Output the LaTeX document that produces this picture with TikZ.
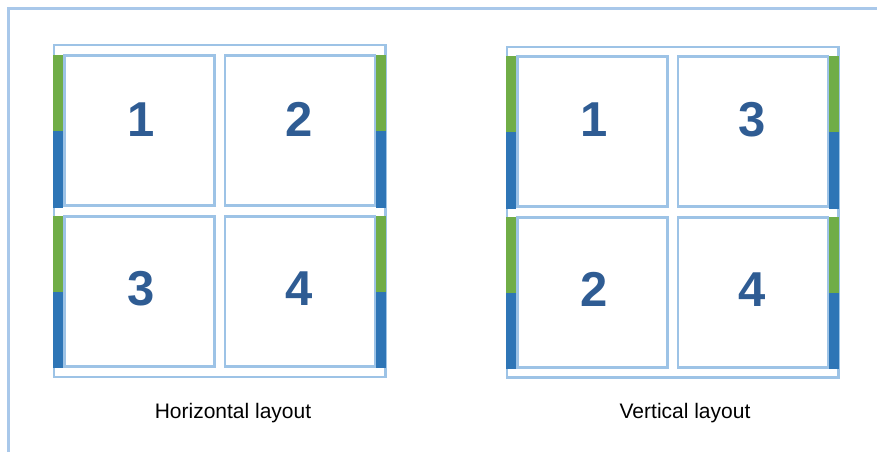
\documentclass[tikz,border=0pt]{standalone}
\usepackage{fontspec}
\setmainfont{Liberation Sans}
\definecolor{lineblue}{HTML}{9DC3E6}
\definecolor{framelight}{HTML}{A9C8EA}
\definecolor{bargreen}{HTML}{70AD47}
\definecolor{barblue}{HTML}{2E75B6}
\definecolor{numblue}{HTML}{2F5C93}
\begin{document}
\begin{tikzpicture}[x=1pt,y=-1pt,
  cell/.style={draw=lineblue,line width=2.5pt,minimum width=150pt,minimum height=150pt,inner sep=0pt},
  digit/.style={anchor=base,inner sep=0pt,font=\fontsize{49}{49}\selectfont\bfseries,text=numblue},
  group/.style={draw=lineblue,line width=2.5pt},
  capt/.style={anchor=base,inner sep=0pt,font=\fontsize{21}{24}\selectfont,text=black}]
\useasboundingbox (0,0) rectangle (877,452);
% outer frame
\draw[framelight,line width=2.5pt] (8.5,452) -- (8.5,8.5) -- (877,8.5);
% left group
\draw[group] (54,45) rectangle (385.5,377);
\node[cell] (h1) at (139.5,130.5) {};
\node[cell] (h2) at (300,130.5) {};
\node[cell] (h3) at (139.5,291.5) {};
\node[cell] (h4) at (300,291.5) {};
\node[digit] (h1t) at (141,136) {1};
\node[digit] (h2t) at (299,136) {2};
\node[digit] (h3t) at (141,305) {3};
\node[digit] (h4t) at (299,305) {4};
% left group bars
\fill[bargreen] (53,55) rectangle (63,131);
\fill[barblue] (53,131) rectangle (63,208);
\fill[bargreen] (53,216) rectangle (63,292);
\fill[barblue] (53,292) rectangle (63,368);
\fill[bargreen] (375.5,55) rectangle (386,131);
\fill[barblue] (375.5,131) rectangle (386,208);
\fill[bargreen] (375.5,216) rectangle (386,292);
\fill[barblue] (375.5,292) rectangle (386,368);
\node[capt] (hcap) at (233,418) {Horizontal layout};
% right group
\draw[group] (507,47) rectangle (838.5,377.5);
\node[cell] (v1) at (592.5,131.5) {};
\node[cell] (v3) at (753,131.5) {};
\node[cell] (v2) at (592.5,292.5) {};
\node[cell] (v4) at (753,292.5) {};
\node[digit] (v1t) at (594,136) {1};
\node[digit] (v3t) at (752,136) {3};
\node[digit] (v2t) at (594,306) {2};
\node[digit] (v4t) at (752,306) {4};
\fill[bargreen] (506,56) rectangle (516,132);
\fill[barblue] (506,132) rectangle (516,209);
\fill[bargreen] (506,217) rectangle (516,293);
\fill[barblue] (506,293) rectangle (516,369);
\fill[bargreen] (828.5,56) rectangle (839,132);
\fill[barblue] (828.5,132) rectangle (839,209);
\fill[bargreen] (828.5,217) rectangle (839,293);
\fill[barblue] (828.5,293) rectangle (839,369);
\node[capt] (vcap) at (685,418) {Vertical layout};
\end{tikzpicture}
\end{document}
